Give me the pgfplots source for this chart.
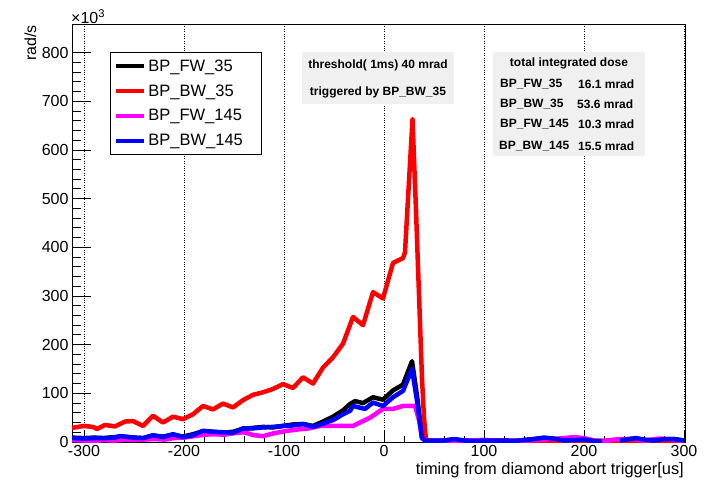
\documentclass[border=0pt]{standalone}
\usepackage{fontspec}
\setmainfont{Liberation Sans}
\usepackage{pgfplots}
\pgfplotsset{compat=1.18}
\definecolor{boxgray}{RGB}{240,240,240}
\definecolor{rootmagenta}{RGB}{255,0,255}
\definecolor{rootred}{RGB}{255,0,0}
\definecolor{rootblue}{RGB}{0,0,255}
\newcommand{\lent}[1]{\makebox[107pt][l]{#1}}
\begin{document}
\begin{tikzpicture}[x=1pt,y=1pt]
\useasboundingbox (0,0) rectangle (704,482);
\begin{axis}[
  at={(72pt,40pt)}, anchor=south west,
  scale only axis, width=613pt, height=417pt,
  xmin=-312, xmax=301, ymin=0, ymax=857,
  unbounded coords=jump,
  axis line style={line width=1pt},
  every tick/.style={black, line width=1pt},
  xtick={-300,-200,...,300}, ytick={0,100,...,800},
  minor x tick num=4, minor y tick num=4,
  xtick pos=bottom, ytick pos=left, tick align=inside,
  xtick style={/pgfplots/major tick length=12pt,/pgfplots/minor tick length=6pt},
  ytick style={/pgfplots/major tick length=19pt,/pgfplots/minor tick length=9pt},
  xmajorgrids, grid style={black, dotted, line width=0.6pt},
  /pgf/number format/assume math mode=true,
  tick label style={font=\fontsize{16}{19}\selectfont},
  legend style={at={(rel axis cs:0.062,0.935)}, anchor=north west, draw=black,
    line width=0.8pt, fill=white, font=\fontsize{16.5}{19}\selectfont,
    inner xsep=4pt, inner ysep=5pt, row sep=8pt, legend cell align=left},
  legend image code/.code={\draw[#1, line width=4pt] (0pt,0pt) -- (28pt,0pt);},
  every axis plot/.append style={line width=4.5pt, line join=round},
]
% BP_FW_35 (black)
\addplot[black] coordinates {
(-312,9) (-300,8) (-290,9) (-280,8) (-270,10) (-260,11) (-250,9) (-241,8) (-231,13) (-221,11)
(-211,15) (-201,11) (-191,16) (-181,22) (-171,21) (-161,19) (-151,21) (-141,27) (-131,29) (-121,31)
(-111,30) (-101,33) (-91,36) (-81,37) (-71,33) (-61,42) (-51,52) (-41,65) (-34,78) (-29,84)
(-21,80) (-11,92) (-1,87) (9,106) (19,118) (28,166) (33,95) (38,10) (42,3)
(50,2) (60,3) (70,5) (80,3) (90,2) (100,3) (110,2) (120,3) (130,2) (140,4) (150,6) (160,8)
(170,6) (180,3) (190,4) (200,4) (210,2) (218,1) (222,nan) (236,3) (245,6) (252,7) (260,4)
(270,3) (280,5) (290,6) (300,3)
};
\addlegendentry{\lent{BP\_FW\_35}}
% BP_BW_35 (red)
\addplot[rootred] coordinates {
(-312,29) (-300,33) (-291,31) (-287,27) (-279,35) (-269,32) (-259,42) (-251,43) (-241,33) (-231,54)
(-221,40) (-211,52) (-201,47) (-191,57) (-181,74) (-171,67) (-161,79) (-151,71) (-141,86) (-131,97)
(-121,102) (-111,109) (-101,119) (-91,111) (-81,133) (-71,120) (-61,153) (-51,174) (-41,202) (-31,257)
(-21,240) (-11,308) (-1,295) (9,368) (19,378) (21,390) (24,500) (28.5,663) (32,476) (34,360)
(38,130) (40,50) (42,4) (50,2) (60,3) (80,2) (100,4) (120,2) (140,3) (160,3) (180,2) (200,3)
(220,2) (240,3) (260,2) (280,3) (300,2)
};
\addlegendentry{\lent{BP\_BW\_35}}
% BP_FW_145 (magenta)
\addplot[rootmagenta] coordinates {
(-312,4) (-300,3) (-290,2) (-280,4) (-270,3) (-260,5) (-250,4) (-240,5) (-230,6) (-220,5)
(-210,8) (-200,9) (-190,12) (-180,15) (-170,16) (-160,15) (-150,18) (-140,20) (-130,14) (-121,12)
(-110,18) (-97,23) (-85,26) (-75,28) (-64,33) (-47,33) (-31,33) (-14,50) (-1,68) (9,68)
(19,74) (28,74) (31,74) (35,45) (38,9) (42,2)
(50,2) (60,2) (80,3) (100,4) (120,2) (140,3) (160,5) (180,8) (190,10) (200,8) (210,3) (220,2)
(230,5) (240,6) (250,6) (260,3) (275,7) (285,6) (300,2)
};
\addlegendentry{\lent{BP\_FW\_145}}
% BP_BW_145 (blue)
\addplot[rootblue] coordinates {
(-312,8) (-300,7) (-290,8) (-280,8) (-270,9) (-264,12) (-250,9) (-241,8) (-231,14) (-221,10)
(-211,16) (-201,10) (-191,14) (-181,23) (-171,21) (-161,20) (-151,19) (-141,28) (-131,28) (-121,30)
(-111,31) (-101,33) (-91,34) (-81,37) (-71,31) (-61,38) (-51,45) (-41,57) (-34,64) (-31,74)
(-19,68) (-11,81) (-1,74) (9,92) (19,105) (28,150) (33,85) (38,8) (42,2)
(50,3) (60,3) (70,6) (80,3) (90,2) (100,3) (110,3) (120,3) (130,2) (140,4) (150,6) (160,9)
(170,7) (180,3) (190,4) (200,5) (210,2) (218,1) (222,nan) (236,3) (245,6) (252,8) (260,5)
(270,3) (280,6) (290,6) (300,3)
};
\addlegendentry{\lent{BP\_BW\_145}}
\end{axis}
% axis titles
\node[rotate=90, anchor=base east, font=\fontsize{16}{19}\selectfont, inner sep=0pt] at (36,457) {rad/s};
\node[anchor=base west, font=\fontsize{16}{19}\selectfont, inner sep=0pt] at (71,458) {×10\textsuperscript{3}};
\node[anchor=base east, font=\fontsize{16.4}{19}\selectfont, inner sep=0pt] at (684,8) {timing from diamond abort trigger[us]};
% text box 1
\fill[boxgray] (302,378) rectangle (454,430);
\node[font=\bfseries\fontsize{12}{14}\selectfont] at (378,417) {threshold( 1ms) 40 mrad};
\node[font=\bfseries\fontsize{12}{14}\selectfont] at (378,390) {triggered by BP\_BW\_35};
% text box 2
\fill[boxgray] (493,326) rectangle (645,430);
\node[font=\bfseries\fontsize{12}{14}\selectfont] at (569,419) {total integrated dose};
\begin{scope}[every node/.style={font=\bfseries\fontsize{12}{14}\selectfont, anchor=west, inner sep=0pt}]
\node at (500,398) {BP\_FW\_35};   \node at (578,398) {16.1 mrad};
\node at (500,378) {BP\_BW\_35};   \node at (577,378) {53.6 mrad};
\node at (500,358) {BP\_FW\_145};  \node at (578,358) {10.3 mrad};
\node at (499,336) {BP\_BW\_145};  \node at (578,336) {15.5 mrad};
\end{scope}
\end{tikzpicture}
\end{document}
